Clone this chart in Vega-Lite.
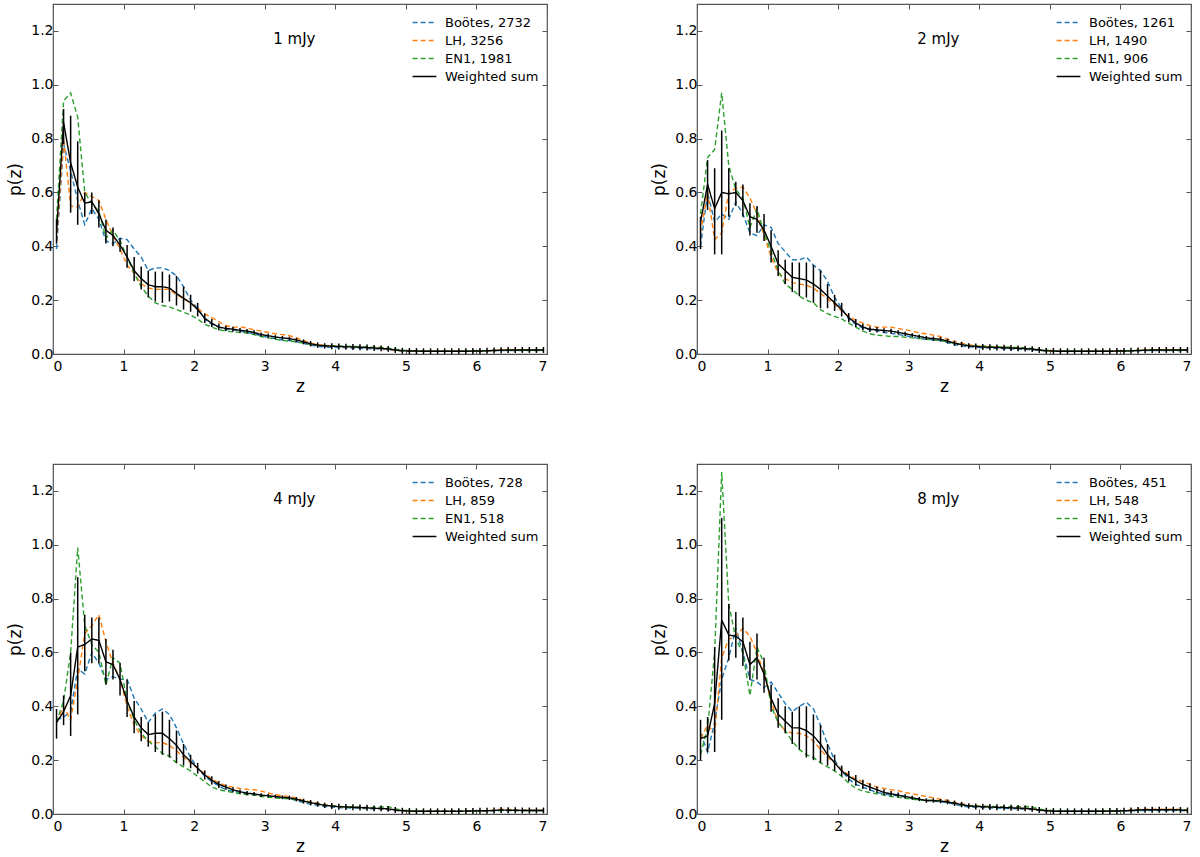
{
"$schema": "https://vega.github.io/schema/vega-lite/v6.json",
"background": "white",
"padding": {"left": 6, "top": 2, "right": 4, "bottom": 4},
"config": {
  "font": "DejaVu Sans",
  "view": {"stroke": "#555555", "strokeWidth": 1.2},
  "axis": {"domain": false, "grid": false, "tickColor": "#555555", "tickSize": -5, "tickWidth": 1, "labelFontSize": 14, "labelColor": "black", "labelFont": "DejaVu Sans", "titleFont": "DejaVu Sans", "titleFontSize": 17, "titleFontWeight": "normal", "titleColor": "black"},
  "axisX": {"labelPadding": 10, "titlePadding": 5},
  "axisY": {"labelPadding": 5, "titlePadding": 6},
  "legend": {"orient": "top-right", "offset": 8, "padding": 0, "labelFontSize": 13, "labelFont": "DejaVu Sans", "labelColor": "black", "symbolType": "M-1.25,0H1.25", "symbolSize": 361, "symbolStrokeWidth": 1.5, "rowPadding": 0, "labelOffset": 10, "title": null}
},
"datasets": {
"d": [
{"p":1,"z":0.05,"b":0.39,"l":0.42,"e":0.5,"w":0.45,"lo":0.41,"hi":0.5},
{"p":1,"z":0.15,"b":0.78,"l":0.8,"e":0.94,"w":0.86,"lo":0.78,"hi":0.91},
{"p":1,"z":0.25,"b":0.68,"l":0.55,"e":0.97,"w":0.71,"lo":0.525,"hi":0.885},
{"p":1,"z":0.35,"b":0.57,"l":0.545,"e":0.88,"w":0.62,"lo":0.48,"hi":0.79},
{"p":1,"z":0.45,"b":0.48,"l":0.6,"e":0.6,"w":0.56,"lo":0.51,"hi":0.6},
{"p":1,"z":0.55,"b":0.54,"l":0.585,"e":0.56,"w":0.566,"lo":0.52,"hi":0.6},
{"p":1,"z":0.65,"b":0.5,"l":0.57,"e":0.53,"w":0.52,"lo":0.47,"hi":0.57},
{"p":1,"z":0.75,"b":0.42,"l":0.5,"e":0.43,"w":0.46,"lo":0.41,"hi":0.5},
{"p":1,"z":0.85,"b":0.41,"l":0.44,"e":0.46,"w":0.44,"lo":0.4,"hi":0.47},
{"p":1,"z":0.95,"b":0.43,"l":0.39,"e":0.42,"w":0.405,"lo":0.38,"hi":0.43},
{"p":1,"z":1.05,"b":0.425,"l":0.33,"e":0.36,"w":0.36,"lo":0.32,"hi":0.405},
{"p":1,"z":1.15,"b":0.39,"l":0.3,"e":0.3,"w":0.31,"lo":0.27,"hi":0.36},
{"p":1,"z":1.25,"b":0.36,"l":0.26,"e":0.25,"w":0.28,"lo":0.24,"hi":0.325},
{"p":1,"z":1.35,"b":0.31,"l":0.245,"e":0.215,"w":0.257,"lo":0.21,"hi":0.31},
{"p":1,"z":1.45,"b":0.32,"l":0.24,"e":0.19,"w":0.25,"lo":0.195,"hi":0.306},
{"p":1,"z":1.55,"b":0.32,"l":0.24,"e":0.18,"w":0.25,"lo":0.19,"hi":0.306},
{"p":1,"z":1.65,"b":0.31,"l":0.24,"e":0.175,"w":0.245,"lo":0.195,"hi":0.295},
{"p":1,"z":1.75,"b":0.29,"l":0.22,"e":0.165,"w":0.225,"lo":0.18,"hi":0.29},
{"p":1,"z":1.85,"b":0.25,"l":0.205,"e":0.155,"w":0.207,"lo":0.165,"hi":0.25},
{"p":1,"z":1.95,"b":0.2,"l":0.19,"e":0.145,"w":0.19,"lo":0.157,"hi":0.22},
{"p":1,"z":2.05,"b":0.17,"l":0.17,"e":0.13,"w":0.165,"lo":0.14,"hi":0.19},
{"p":1,"z":2.15,"b":0.13,"l":0.15,"e":0.11,"w":0.133,"lo":0.115,"hi":0.15},
{"p":1,"z":2.25,"b":0.11,"l":0.135,"e":0.1,"w":0.114,"lo":0.1,"hi":0.13},
{"p":1,"z":2.35,"b":0.1,"l":0.12,"e":0.09,"w":0.1,"lo":0.088,"hi":0.113},
{"p":1,"z":2.45,"b":0.092,"l":0.105,"e":0.085,"w":0.095,"lo":0.085,"hi":0.105},
{"p":1,"z":2.55,"b":0.09,"l":0.1,"e":0.082,"w":0.092,"lo":0.083,"hi":0.101},
{"p":1,"z":2.65,"b":0.085,"l":0.1,"e":0.08,"w":0.088,"lo":0.08,"hi":0.097},
{"p":1,"z":2.75,"b":0.08,"l":0.097,"e":0.078,"w":0.085,"lo":0.077,"hi":0.093},
{"p":1,"z":2.85,"b":0.075,"l":0.09,"e":0.072,"w":0.08,"lo":0.072,"hi":0.088},
{"p":1,"z":2.95,"b":0.068,"l":0.085,"e":0.065,"w":0.072,"lo":0.065,"hi":0.08},
{"p":1,"z":3.05,"b":0.062,"l":0.08,"e":0.06,"w":0.068,"lo":0.06,"hi":0.075},
{"p":1,"z":3.15,"b":0.056,"l":0.075,"e":0.055,"w":0.063,"lo":0.056,"hi":0.07},
{"p":1,"z":3.25,"b":0.052,"l":0.072,"e":0.05,"w":0.06,"lo":0.053,"hi":0.067},
{"p":1,"z":3.35,"b":0.05,"l":0.068,"e":0.048,"w":0.057,"lo":0.05,"hi":0.064},
{"p":1,"z":3.45,"b":0.045,"l":0.06,"e":0.045,"w":0.052,"lo":0.044,"hi":0.06},
{"p":1,"z":3.55,"b":0.04,"l":0.05,"e":0.04,"w":0.045,"lo":0.036,"hi":0.054},
{"p":1,"z":3.65,"b":0.033,"l":0.04,"e":0.035,"w":0.038,"lo":0.028,"hi":0.048},
{"p":1,"z":3.75,"b":0.028,"l":0.035,"e":0.032,"w":0.033,"lo":0.023,"hi":0.043},
{"p":1,"z":3.85,"b":0.026,"l":0.032,"e":0.031,"w":0.03,"lo":0.02,"hi":0.04},
{"p":1,"z":3.95,"b":0.025,"l":0.03,"e":0.03,"w":0.029,"lo":0.018,"hi":0.04},
{"p":1,"z":4.05,"b":0.024,"l":0.028,"e":0.029,"w":0.028,"lo":0.017,"hi":0.039},
{"p":1,"z":4.15,"b":0.023,"l":0.027,"e":0.029,"w":0.027,"lo":0.016,"hi":0.038},
{"p":1,"z":4.25,"b":0.022,"l":0.026,"e":0.028,"w":0.026,"lo":0.015,"hi":0.037},
{"p":1,"z":4.35,"b":0.021,"l":0.025,"e":0.027,"w":0.025,"lo":0.014,"hi":0.036},
{"p":1,"z":4.45,"b":0.02,"l":0.024,"e":0.026,"w":0.024,"lo":0.013,"hi":0.035},
{"p":1,"z":4.55,"b":0.019,"l":0.022,"e":0.025,"w":0.022,"lo":0.011,"hi":0.033},
{"p":1,"z":4.65,"b":0.018,"l":0.02,"e":0.024,"w":0.021,"lo":0.01,"hi":0.032},
{"p":1,"z":4.75,"b":0.016,"l":0.018,"e":0.022,"w":0.019,"lo":0.008,"hi":0.03},
{"p":1,"z":4.85,"b":0.013,"l":0.014,"e":0.018,"w":0.015,"lo":0.004,"hi":0.026},
{"p":1,"z":4.95,"b":0.011,"l":0.012,"e":0.014,"w":0.012,"lo":0.001,"hi":0.023},
{"p":1,"z":5.05,"b":0.01,"l":0.011,"e":0.012,"w":0.011,"lo":0,"hi":0.022},
{"p":1,"z":5.15,"b":0.01,"l":0.01,"e":0.011,"w":0.011,"lo":0,"hi":0.022},
{"p":1,"z":5.25,"b":0.01,"l":0.01,"e":0.011,"w":0.01,"lo":0,"hi":0.021},
{"p":1,"z":5.35,"b":0.01,"l":0.01,"e":0.011,"w":0.01,"lo":0,"hi":0.021},
{"p":1,"z":5.45,"b":0.01,"l":0.01,"e":0.011,"w":0.01,"lo":0,"hi":0.021},
{"p":1,"z":5.55,"b":0.01,"l":0.01,"e":0.011,"w":0.01,"lo":0,"hi":0.021},
{"p":1,"z":5.65,"b":0.01,"l":0.01,"e":0.011,"w":0.01,"lo":0,"hi":0.021},
{"p":1,"z":5.75,"b":0.01,"l":0.01,"e":0.011,"w":0.01,"lo":0,"hi":0.021},
{"p":1,"z":5.85,"b":0.01,"l":0.01,"e":0.011,"w":0.01,"lo":0,"hi":0.021},
{"p":1,"z":5.95,"b":0.01,"l":0.011,"e":0.011,"w":0.011,"lo":0,"hi":0.022},
{"p":1,"z":6.05,"b":0.01,"l":0.011,"e":0.011,"w":0.011,"lo":0,"hi":0.022},
{"p":1,"z":6.15,"b":0.011,"l":0.012,"e":0.012,"w":0.012,"lo":0.001,"hi":0.023},
{"p":1,"z":6.25,"b":0.012,"l":0.014,"e":0.013,"w":0.013,"lo":0.002,"hi":0.024},
{"p":1,"z":6.35,"b":0.013,"l":0.015,"e":0.014,"w":0.014,"lo":0.003,"hi":0.025},
{"p":1,"z":6.45,"b":0.013,"l":0.016,"e":0.014,"w":0.015,"lo":0.004,"hi":0.026},
{"p":1,"z":6.55,"b":0.013,"l":0.016,"e":0.014,"w":0.015,"lo":0.004,"hi":0.026},
{"p":1,"z":6.65,"b":0.013,"l":0.016,"e":0.014,"w":0.015,"lo":0.004,"hi":0.026},
{"p":1,"z":6.75,"b":0.013,"l":0.016,"e":0.014,"w":0.015,"lo":0.004,"hi":0.026},
{"p":1,"z":6.85,"b":0.013,"l":0.016,"e":0.014,"w":0.015,"lo":0.004,"hi":0.026},
{"p":1,"z":6.95,"b":0.013,"l":0.016,"e":0.014,"w":0.015,"lo":0.004,"hi":0.026},

{"p":2,"z":0.05,"b":0.4,"l":0.45,"e":0.52,"w":0.49,"lo":0.39,"hi":0.51},
{"p":2,"z":0.15,"b":0.6,"l":0.6,"e":0.73,"w":0.63,"lo":0.535,"hi":0.72},
{"p":2,"z":0.25,"b":0.49,"l":0.425,"e":0.76,"w":0.54,"lo":0.37,"hi":0.69},
{"p":2,"z":0.35,"b":0.52,"l":0.45,"e":0.97,"w":0.6,"lo":0.37,"hi":0.83},
{"p":2,"z":0.45,"b":0.5,"l":0.6,"e":0.7,"w":0.595,"lo":0.51,"hi":0.69},
{"p":2,"z":0.55,"b":0.565,"l":0.615,"e":0.61,"w":0.6,"lo":0.55,"hi":0.64},
{"p":2,"z":0.65,"b":0.52,"l":0.62,"e":0.58,"w":0.57,"lo":0.51,"hi":0.63},
{"p":2,"z":0.75,"b":0.45,"l":0.58,"e":0.47,"w":0.51,"lo":0.44,"hi":0.56},
{"p":2,"z":0.85,"b":0.44,"l":0.52,"e":0.54,"w":0.5,"lo":0.45,"hi":0.55},
{"p":2,"z":0.95,"b":0.48,"l":0.44,"e":0.45,"w":0.46,"lo":0.42,"hi":0.52},
{"p":2,"z":1.05,"b":0.47,"l":0.36,"e":0.38,"w":0.4,"lo":0.34,"hi":0.46},
{"p":2,"z":1.15,"b":0.41,"l":0.3,"e":0.31,"w":0.335,"lo":0.29,"hi":0.385},
{"p":2,"z":1.25,"b":0.38,"l":0.28,"e":0.26,"w":0.31,"lo":0.26,"hi":0.35},
{"p":2,"z":1.35,"b":0.35,"l":0.265,"e":0.24,"w":0.285,"lo":0.23,"hi":0.34},
{"p":2,"z":1.45,"b":0.35,"l":0.26,"e":0.215,"w":0.28,"lo":0.215,"hi":0.34},
{"p":2,"z":1.55,"b":0.36,"l":0.255,"e":0.2,"w":0.275,"lo":0.21,"hi":0.34},
{"p":2,"z":1.65,"b":0.33,"l":0.245,"e":0.19,"w":0.26,"lo":0.19,"hi":0.33},
{"p":2,"z":1.75,"b":0.31,"l":0.225,"e":0.165,"w":0.24,"lo":0.17,"hi":0.31},
{"p":2,"z":1.85,"b":0.27,"l":0.205,"e":0.15,"w":0.215,"lo":0.17,"hi":0.26},
{"p":2,"z":1.95,"b":0.21,"l":0.185,"e":0.14,"w":0.19,"lo":0.16,"hi":0.22},
{"p":2,"z":2.05,"b":0.17,"l":0.16,"e":0.13,"w":0.165,"lo":0.14,"hi":0.19},
{"p":2,"z":2.15,"b":0.13,"l":0.14,"e":0.115,"w":0.135,"lo":0.118,"hi":0.152},
{"p":2,"z":2.25,"b":0.11,"l":0.125,"e":0.1,"w":0.115,"lo":0.1,"hi":0.13},
{"p":2,"z":2.35,"b":0.095,"l":0.115,"e":0.085,"w":0.1,"lo":0.088,"hi":0.112},
{"p":2,"z":2.45,"b":0.09,"l":0.105,"e":0.075,"w":0.092,"lo":0.082,"hi":0.102},
{"p":2,"z":2.55,"b":0.087,"l":0.1,"e":0.07,"w":0.09,"lo":0.08,"hi":0.1},
{"p":2,"z":2.65,"b":0.08,"l":0.1,"e":0.068,"w":0.087,"lo":0.078,"hi":0.096},
{"p":2,"z":2.75,"b":0.077,"l":0.1,"e":0.065,"w":0.085,"lo":0.076,"hi":0.094},
{"p":2,"z":2.85,"b":0.072,"l":0.095,"e":0.065,"w":0.08,"lo":0.072,"hi":0.088},
{"p":2,"z":2.95,"b":0.068,"l":0.09,"e":0.062,"w":0.075,"lo":0.067,"hi":0.083},
{"p":2,"z":3.05,"b":0.063,"l":0.085,"e":0.06,"w":0.07,"lo":0.063,"hi":0.077},
{"p":2,"z":3.15,"b":0.058,"l":0.078,"e":0.057,"w":0.065,"lo":0.058,"hi":0.072},
{"p":2,"z":3.25,"b":0.055,"l":0.075,"e":0.055,"w":0.06,"lo":0.053,"hi":0.067},
{"p":2,"z":3.35,"b":0.052,"l":0.07,"e":0.052,"w":0.057,"lo":0.049,"hi":0.065},
{"p":2,"z":3.45,"b":0.05,"l":0.065,"e":0.05,"w":0.055,"lo":0.047,"hi":0.063},
{"p":2,"z":3.55,"b":0.042,"l":0.055,"e":0.045,"w":0.048,"lo":0.039,"hi":0.057},
{"p":2,"z":3.65,"b":0.035,"l":0.045,"e":0.04,"w":0.04,"lo":0.03,"hi":0.05},
{"p":2,"z":3.75,"b":0.03,"l":0.04,"e":0.035,"w":0.035,"lo":0.025,"hi":0.045},
{"p":2,"z":3.85,"b":0.027,"l":0.035,"e":0.032,"w":0.03,"lo":0.02,"hi":0.04},
{"p":2,"z":3.95,"b":0.025,"l":0.03,"e":0.03,"w":0.028,"lo":0.017,"hi":0.039},
{"p":2,"z":4.05,"b":0.023,"l":0.028,"e":0.029,"w":0.026,"lo":0.015,"hi":0.037},
{"p":2,"z":4.15,"b":0.022,"l":0.027,"e":0.028,"w":0.025,"lo":0.014,"hi":0.036},
{"p":2,"z":4.25,"b":0.021,"l":0.026,"e":0.027,"w":0.024,"lo":0.013,"hi":0.035},
{"p":2,"z":4.35,"b":0.02,"l":0.025,"e":0.026,"w":0.023,"lo":0.012,"hi":0.034},
{"p":2,"z":4.45,"b":0.019,"l":0.024,"e":0.025,"w":0.022,"lo":0.011,"hi":0.033},
{"p":2,"z":4.55,"b":0.018,"l":0.022,"e":0.024,"w":0.021,"lo":0.01,"hi":0.032},
{"p":2,"z":4.65,"b":0.017,"l":0.02,"e":0.023,"w":0.02,"lo":0.009,"hi":0.031},
{"p":2,"z":4.75,"b":0.015,"l":0.018,"e":0.021,"w":0.018,"lo":0.007,"hi":0.029},
{"p":2,"z":4.85,"b":0.013,"l":0.014,"e":0.017,"w":0.015,"lo":0.004,"hi":0.026},
{"p":2,"z":4.95,"b":0.011,"l":0.012,"e":0.014,"w":0.012,"lo":0.001,"hi":0.023},
{"p":2,"z":5.05,"b":0.01,"l":0.011,"e":0.012,"w":0.011,"lo":0,"hi":0.022},
{"p":2,"z":5.15,"b":0.01,"l":0.01,"e":0.011,"w":0.01,"lo":0,"hi":0.021},
{"p":2,"z":5.25,"b":0.01,"l":0.01,"e":0.011,"w":0.01,"lo":0,"hi":0.021},
{"p":2,"z":5.35,"b":0.01,"l":0.01,"e":0.011,"w":0.01,"lo":0,"hi":0.021},
{"p":2,"z":5.45,"b":0.01,"l":0.01,"e":0.011,"w":0.01,"lo":0,"hi":0.021},
{"p":2,"z":5.55,"b":0.01,"l":0.01,"e":0.011,"w":0.01,"lo":0,"hi":0.021},
{"p":2,"z":5.65,"b":0.01,"l":0.01,"e":0.011,"w":0.01,"lo":0,"hi":0.021},
{"p":2,"z":5.75,"b":0.01,"l":0.01,"e":0.011,"w":0.01,"lo":0,"hi":0.021},
{"p":2,"z":5.85,"b":0.01,"l":0.01,"e":0.011,"w":0.01,"lo":0,"hi":0.021},
{"p":2,"z":5.95,"b":0.01,"l":0.011,"e":0.011,"w":0.011,"lo":0,"hi":0.022},
{"p":2,"z":6.05,"b":0.01,"l":0.011,"e":0.011,"w":0.011,"lo":0,"hi":0.022},
{"p":2,"z":6.15,"b":0.011,"l":0.012,"e":0.012,"w":0.012,"lo":0.001,"hi":0.023},
{"p":2,"z":6.25,"b":0.012,"l":0.014,"e":0.013,"w":0.013,"lo":0.002,"hi":0.024},
{"p":2,"z":6.35,"b":0.013,"l":0.015,"e":0.014,"w":0.014,"lo":0.003,"hi":0.025},
{"p":2,"z":6.45,"b":0.013,"l":0.016,"e":0.014,"w":0.015,"lo":0.004,"hi":0.026},
{"p":2,"z":6.55,"b":0.013,"l":0.016,"e":0.014,"w":0.015,"lo":0.004,"hi":0.026},
{"p":2,"z":6.65,"b":0.013,"l":0.016,"e":0.014,"w":0.015,"lo":0.004,"hi":0.026},
{"p":2,"z":6.75,"b":0.013,"l":0.016,"e":0.014,"w":0.015,"lo":0.004,"hi":0.026},
{"p":2,"z":6.85,"b":0.013,"l":0.016,"e":0.014,"w":0.015,"lo":0.004,"hi":0.026},
{"p":2,"z":6.95,"b":0.013,"l":0.016,"e":0.014,"w":0.015,"lo":0.004,"hi":0.026},

{"p":3,"z":0.05,"b":0.35,"l":0.34,"e":0.34,"w":0.34,"lo":0.28,"hi":0.39},
{"p":3,"z":0.15,"b":0.36,"l":0.4,"e":0.42,"w":0.38,"lo":0.33,"hi":0.44},
{"p":3,"z":0.25,"b":0.38,"l":0.35,"e":0.6,"w":0.44,"lo":0.29,"hi":0.6},
{"p":3,"z":0.35,"b":0.54,"l":0.5,"e":0.99,"w":0.62,"lo":0.37,"hi":0.88},
{"p":3,"z":0.45,"b":0.52,"l":0.67,"e":0.7,"w":0.63,"lo":0.53,"hi":0.74},
{"p":3,"z":0.55,"b":0.6,"l":0.7,"e":0.63,"w":0.65,"lo":0.56,"hi":0.73},
{"p":3,"z":0.65,"b":0.56,"l":0.74,"e":0.6,"w":0.645,"lo":0.56,"hi":0.73},
{"p":3,"z":0.75,"b":0.5,"l":0.64,"e":0.48,"w":0.565,"lo":0.48,"hi":0.65},
{"p":3,"z":0.85,"b":0.51,"l":0.56,"e":0.58,"w":0.555,"lo":0.5,"hi":0.61},
{"p":3,"z":0.95,"b":0.5,"l":0.5,"e":0.56,"w":0.5,"lo":0.44,"hi":0.56},
{"p":3,"z":1.05,"b":0.5,"l":0.4,"e":0.42,"w":0.42,"lo":0.36,"hi":0.5},
{"p":3,"z":1.15,"b":0.43,"l":0.33,"e":0.35,"w":0.36,"lo":0.3,"hi":0.42},
{"p":3,"z":1.25,"b":0.39,"l":0.29,"e":0.3,"w":0.32,"lo":0.27,"hi":0.36},
{"p":3,"z":1.35,"b":0.34,"l":0.27,"e":0.27,"w":0.295,"lo":0.25,"hi":0.34},
{"p":3,"z":1.45,"b":0.375,"l":0.265,"e":0.25,"w":0.3,"lo":0.23,"hi":0.37},
{"p":3,"z":1.55,"b":0.39,"l":0.265,"e":0.225,"w":0.3,"lo":0.22,"hi":0.38},
{"p":3,"z":1.65,"b":0.37,"l":0.255,"e":0.215,"w":0.28,"lo":0.21,"hi":0.35},
{"p":3,"z":1.75,"b":0.32,"l":0.235,"e":0.19,"w":0.255,"lo":0.19,"hi":0.31},
{"p":3,"z":1.85,"b":0.26,"l":0.21,"e":0.175,"w":0.22,"lo":0.18,"hi":0.26},
{"p":3,"z":1.95,"b":0.21,"l":0.19,"e":0.16,"w":0.195,"lo":0.17,"hi":0.22},
{"p":3,"z":2.05,"b":0.17,"l":0.17,"e":0.14,"w":0.17,"lo":0.15,"hi":0.19},
{"p":3,"z":2.15,"b":0.14,"l":0.15,"e":0.12,"w":0.145,"lo":0.128,"hi":0.162},
{"p":3,"z":2.25,"b":0.12,"l":0.13,"e":0.1,"w":0.125,"lo":0.11,"hi":0.14},
{"p":3,"z":2.35,"b":0.105,"l":0.115,"e":0.09,"w":0.11,"lo":0.097,"hi":0.123},
{"p":3,"z":2.45,"b":0.09,"l":0.105,"e":0.085,"w":0.1,"lo":0.09,"hi":0.11},
{"p":3,"z":2.55,"b":0.085,"l":0.1,"e":0.08,"w":0.09,"lo":0.081,"hi":0.099},
{"p":3,"z":2.65,"b":0.08,"l":0.095,"e":0.075,"w":0.083,"lo":0.075,"hi":0.091},
{"p":3,"z":2.75,"b":0.075,"l":0.092,"e":0.072,"w":0.077,"lo":0.07,"hi":0.085},
{"p":3,"z":2.85,"b":0.072,"l":0.09,"e":0.07,"w":0.075,"lo":0.068,"hi":0.082},
{"p":3,"z":2.95,"b":0.068,"l":0.085,"e":0.065,"w":0.07,"lo":0.063,"hi":0.077},
{"p":3,"z":3.05,"b":0.065,"l":0.078,"e":0.062,"w":0.068,"lo":0.061,"hi":0.075},
{"p":3,"z":3.15,"b":0.062,"l":0.072,"e":0.06,"w":0.065,"lo":0.058,"hi":0.072},
{"p":3,"z":3.25,"b":0.06,"l":0.068,"e":0.058,"w":0.062,"lo":0.055,"hi":0.069},
{"p":3,"z":3.35,"b":0.057,"l":0.065,"e":0.057,"w":0.06,"lo":0.052,"hi":0.068},
{"p":3,"z":3.45,"b":0.05,"l":0.06,"e":0.053,"w":0.055,"lo":0.047,"hi":0.063},
{"p":3,"z":3.55,"b":0.042,"l":0.05,"e":0.048,"w":0.048,"lo":0.039,"hi":0.057},
{"p":3,"z":3.65,"b":0.036,"l":0.045,"e":0.042,"w":0.042,"lo":0.032,"hi":0.052},
{"p":3,"z":3.75,"b":0.032,"l":0.04,"e":0.037,"w":0.037,"lo":0.027,"hi":0.047},
{"p":3,"z":3.85,"b":0.028,"l":0.035,"e":0.033,"w":0.032,"lo":0.022,"hi":0.042},
{"p":3,"z":3.95,"b":0.026,"l":0.03,"e":0.03,"w":0.03,"lo":0.019,"hi":0.041},
{"p":3,"z":4.05,"b":0.024,"l":0.028,"e":0.028,"w":0.027,"lo":0.016,"hi":0.038},
{"p":3,"z":4.15,"b":0.023,"l":0.026,"e":0.027,"w":0.026,"lo":0.015,"hi":0.037},
{"p":3,"z":4.25,"b":0.022,"l":0.025,"e":0.026,"w":0.025,"lo":0.014,"hi":0.036},
{"p":3,"z":4.35,"b":0.021,"l":0.024,"e":0.025,"w":0.024,"lo":0.013,"hi":0.035},
{"p":3,"z":4.45,"b":0.02,"l":0.023,"e":0.024,"w":0.023,"lo":0.012,"hi":0.034},
{"p":3,"z":4.55,"b":0.019,"l":0.021,"e":0.024,"w":0.021,"lo":0.01,"hi":0.032},
{"p":3,"z":4.65,"b":0.018,"l":0.02,"e":0.026,"w":0.021,"lo":0.01,"hi":0.032},
{"p":3,"z":4.75,"b":0.016,"l":0.018,"e":0.027,"w":0.019,"lo":0.008,"hi":0.03},
{"p":3,"z":4.85,"b":0.013,"l":0.014,"e":0.02,"w":0.015,"lo":0.004,"hi":0.026},
{"p":3,"z":4.95,"b":0.011,"l":0.012,"e":0.014,"w":0.012,"lo":0.001,"hi":0.023},
{"p":3,"z":5.05,"b":0.01,"l":0.011,"e":0.012,"w":0.011,"lo":0,"hi":0.022},
{"p":3,"z":5.15,"b":0.01,"l":0.01,"e":0.011,"w":0.01,"lo":0,"hi":0.021},
{"p":3,"z":5.25,"b":0.01,"l":0.01,"e":0.011,"w":0.01,"lo":0,"hi":0.021},
{"p":3,"z":5.35,"b":0.01,"l":0.01,"e":0.011,"w":0.01,"lo":0,"hi":0.021},
{"p":3,"z":5.45,"b":0.01,"l":0.01,"e":0.011,"w":0.01,"lo":0,"hi":0.021},
{"p":3,"z":5.55,"b":0.01,"l":0.01,"e":0.011,"w":0.01,"lo":0,"hi":0.021},
{"p":3,"z":5.65,"b":0.01,"l":0.01,"e":0.011,"w":0.01,"lo":0,"hi":0.021},
{"p":3,"z":5.75,"b":0.01,"l":0.01,"e":0.011,"w":0.01,"lo":0,"hi":0.021},
{"p":3,"z":5.85,"b":0.01,"l":0.011,"e":0.011,"w":0.011,"lo":0,"hi":0.022},
{"p":3,"z":5.95,"b":0.011,"l":0.012,"e":0.011,"w":0.011,"lo":0,"hi":0.022},
{"p":3,"z":6.05,"b":0.011,"l":0.012,"e":0.011,"w":0.012,"lo":0.001,"hi":0.023},
{"p":3,"z":6.15,"b":0.012,"l":0.013,"e":0.012,"w":0.012,"lo":0.001,"hi":0.023},
{"p":3,"z":6.25,"b":0.012,"l":0.015,"e":0.013,"w":0.013,"lo":0.002,"hi":0.024},
{"p":3,"z":6.35,"b":0.013,"l":0.018,"e":0.013,"w":0.015,"lo":0.004,"hi":0.026},
{"p":3,"z":6.45,"b":0.013,"l":0.017,"e":0.013,"w":0.014,"lo":0.003,"hi":0.025},
{"p":3,"z":6.55,"b":0.013,"l":0.015,"e":0.013,"w":0.014,"lo":0.003,"hi":0.025},
{"p":3,"z":6.65,"b":0.013,"l":0.014,"e":0.013,"w":0.013,"lo":0.002,"hi":0.024},
{"p":3,"z":6.75,"b":0.013,"l":0.014,"e":0.013,"w":0.013,"lo":0.002,"hi":0.024},
{"p":3,"z":6.85,"b":0.013,"l":0.014,"e":0.013,"w":0.013,"lo":0.002,"hi":0.024},
{"p":3,"z":6.95,"b":0.013,"l":0.014,"e":0.013,"w":0.013,"lo":0.002,"hi":0.024},

{"p":4,"z":0.05,"b":0.3,"l":0.28,"e":0.22,"w":0.28,"lo":0.2,"hi":0.35},
{"p":4,"z":0.15,"b":0.23,"l":0.33,"e":0.32,"w":0.29,"lo":0.23,"hi":0.36},
{"p":4,"z":0.25,"b":0.34,"l":0.3,"e":0.6,"w":0.41,"lo":0.23,"hi":0.62},
{"p":4,"z":0.35,"b":0.5,"l":0.58,"e":1.27,"w":0.72,"lo":0.35,"hi":1.1},
{"p":4,"z":0.45,"b":0.58,"l":0.65,"e":0.78,"w":0.665,"lo":0.57,"hi":0.78},
{"p":4,"z":0.55,"b":0.69,"l":0.66,"e":0.65,"w":0.66,"lo":0.58,"hi":0.75},
{"p":4,"z":0.65,"b":0.6,"l":0.69,"e":0.6,"w":0.64,"lo":0.55,"hi":0.73},
{"p":4,"z":0.75,"b":0.5,"l":0.66,"e":0.44,"w":0.555,"lo":0.5,"hi":0.64},
{"p":4,"z":0.85,"b":0.49,"l":0.6,"e":0.62,"w":0.58,"lo":0.5,"hi":0.67},
{"p":4,"z":0.95,"b":0.47,"l":0.52,"e":0.56,"w":0.52,"lo":0.45,"hi":0.58},
{"p":4,"z":1.05,"b":0.49,"l":0.42,"e":0.4,"w":0.43,"lo":0.38,"hi":0.48},
{"p":4,"z":1.15,"b":0.45,"l":0.34,"e":0.34,"w":0.37,"lo":0.32,"hi":0.43},
{"p":4,"z":1.25,"b":0.41,"l":0.31,"e":0.31,"w":0.345,"lo":0.3,"hi":0.4},
{"p":4,"z":1.35,"b":0.38,"l":0.3,"e":0.27,"w":0.32,"lo":0.26,"hi":0.38},
{"p":4,"z":1.45,"b":0.4,"l":0.3,"e":0.24,"w":0.32,"lo":0.24,"hi":0.4},
{"p":4,"z":1.55,"b":0.415,"l":0.29,"e":0.22,"w":0.31,"lo":0.21,"hi":0.4},
{"p":4,"z":1.65,"b":0.39,"l":0.27,"e":0.21,"w":0.29,"lo":0.2,"hi":0.37},
{"p":4,"z":1.75,"b":0.33,"l":0.24,"e":0.19,"w":0.26,"lo":0.19,"hi":0.33},
{"p":4,"z":1.85,"b":0.26,"l":0.21,"e":0.175,"w":0.22,"lo":0.18,"hi":0.26},
{"p":4,"z":1.95,"b":0.2,"l":0.19,"e":0.16,"w":0.19,"lo":0.16,"hi":0.22},
{"p":4,"z":2.05,"b":0.16,"l":0.165,"e":0.14,"w":0.16,"lo":0.14,"hi":0.18},
{"p":4,"z":2.15,"b":0.13,"l":0.145,"e":0.115,"w":0.14,"lo":0.12,"hi":0.16},
{"p":4,"z":2.25,"b":0.11,"l":0.13,"e":0.095,"w":0.125,"lo":0.105,"hi":0.145},
{"p":4,"z":2.35,"b":0.1,"l":0.12,"e":0.085,"w":0.11,"lo":0.093,"hi":0.127},
{"p":4,"z":2.45,"b":0.09,"l":0.11,"e":0.08,"w":0.1,"lo":0.086,"hi":0.114},
{"p":4,"z":2.55,"b":0.08,"l":0.1,"e":0.075,"w":0.09,"lo":0.078,"hi":0.102},
{"p":4,"z":2.65,"b":0.075,"l":0.095,"e":0.07,"w":0.08,"lo":0.07,"hi":0.092},
{"p":4,"z":2.75,"b":0.07,"l":0.09,"e":0.065,"w":0.075,"lo":0.066,"hi":0.085},
{"p":4,"z":2.85,"b":0.068,"l":0.087,"e":0.062,"w":0.07,"lo":0.062,"hi":0.08},
{"p":4,"z":2.95,"b":0.063,"l":0.08,"e":0.058,"w":0.065,"lo":0.058,"hi":0.073},
{"p":4,"z":3.05,"b":0.058,"l":0.075,"e":0.055,"w":0.06,"lo":0.053,"hi":0.068},
{"p":4,"z":3.15,"b":0.054,"l":0.07,"e":0.052,"w":0.055,"lo":0.048,"hi":0.063},
{"p":4,"z":3.25,"b":0.05,"l":0.065,"e":0.05,"w":0.05,"lo":0.042,"hi":0.058},
{"p":4,"z":3.35,"b":0.048,"l":0.06,"e":0.05,"w":0.05,"lo":0.042,"hi":0.058},
{"p":4,"z":3.45,"b":0.045,"l":0.055,"e":0.048,"w":0.048,"lo":0.04,"hi":0.056},
{"p":4,"z":3.55,"b":0.042,"l":0.05,"e":0.045,"w":0.045,"lo":0.036,"hi":0.054},
{"p":4,"z":3.65,"b":0.036,"l":0.043,"e":0.04,"w":0.04,"lo":0.03,"hi":0.05},
{"p":4,"z":3.75,"b":0.03,"l":0.038,"e":0.035,"w":0.035,"lo":0.025,"hi":0.045},
{"p":4,"z":3.85,"b":0.026,"l":0.033,"e":0.031,"w":0.03,"lo":0.02,"hi":0.04},
{"p":4,"z":3.95,"b":0.025,"l":0.03,"e":0.03,"w":0.028,"lo":0.017,"hi":0.039},
{"p":4,"z":4.05,"b":0.024,"l":0.028,"e":0.029,"w":0.027,"lo":0.016,"hi":0.038},
{"p":4,"z":4.15,"b":0.023,"l":0.027,"e":0.028,"w":0.026,"lo":0.015,"hi":0.037},
{"p":4,"z":4.25,"b":0.022,"l":0.026,"e":0.027,"w":0.025,"lo":0.014,"hi":0.036},
{"p":4,"z":4.35,"b":0.021,"l":0.025,"e":0.026,"w":0.024,"lo":0.013,"hi":0.035},
{"p":4,"z":4.45,"b":0.02,"l":0.024,"e":0.026,"w":0.023,"lo":0.012,"hi":0.034},
{"p":4,"z":4.55,"b":0.019,"l":0.022,"e":0.027,"w":0.022,"lo":0.011,"hi":0.033},
{"p":4,"z":4.65,"b":0.018,"l":0.02,"e":0.028,"w":0.021,"lo":0.01,"hi":0.032},
{"p":4,"z":4.75,"b":0.016,"l":0.018,"e":0.026,"w":0.019,"lo":0.008,"hi":0.03},
{"p":4,"z":4.85,"b":0.013,"l":0.014,"e":0.018,"w":0.015,"lo":0.004,"hi":0.026},
{"p":4,"z":4.95,"b":0.011,"l":0.012,"e":0.014,"w":0.012,"lo":0.001,"hi":0.023},
{"p":4,"z":5.05,"b":0.01,"l":0.011,"e":0.012,"w":0.011,"lo":0,"hi":0.022},
{"p":4,"z":5.15,"b":0.01,"l":0.01,"e":0.011,"w":0.01,"lo":0,"hi":0.021},
{"p":4,"z":5.25,"b":0.01,"l":0.01,"e":0.011,"w":0.01,"lo":0,"hi":0.021},
{"p":4,"z":5.35,"b":0.01,"l":0.01,"e":0.011,"w":0.01,"lo":0,"hi":0.021},
{"p":4,"z":5.45,"b":0.01,"l":0.01,"e":0.011,"w":0.01,"lo":0,"hi":0.021},
{"p":4,"z":5.55,"b":0.01,"l":0.01,"e":0.011,"w":0.01,"lo":0,"hi":0.021},
{"p":4,"z":5.65,"b":0.01,"l":0.01,"e":0.011,"w":0.01,"lo":0,"hi":0.021},
{"p":4,"z":5.75,"b":0.01,"l":0.01,"e":0.011,"w":0.01,"lo":0,"hi":0.021},
{"p":4,"z":5.85,"b":0.01,"l":0.011,"e":0.011,"w":0.011,"lo":0,"hi":0.022},
{"p":4,"z":5.95,"b":0.01,"l":0.012,"e":0.012,"w":0.011,"lo":0,"hi":0.022},
{"p":4,"z":6.05,"b":0.011,"l":0.013,"e":0.012,"w":0.012,"lo":0.001,"hi":0.023},
{"p":4,"z":6.15,"b":0.012,"l":0.015,"e":0.013,"w":0.013,"lo":0.002,"hi":0.024},
{"p":4,"z":6.25,"b":0.013,"l":0.017,"e":0.014,"w":0.015,"lo":0.004,"hi":0.026},
{"p":4,"z":6.35,"b":0.013,"l":0.018,"e":0.015,"w":0.016,"lo":0.005,"hi":0.027},
{"p":4,"z":6.45,"b":0.013,"l":0.018,"e":0.016,"w":0.016,"lo":0.005,"hi":0.027},
{"p":4,"z":6.55,"b":0.013,"l":0.018,"e":0.016,"w":0.016,"lo":0.005,"hi":0.027},
{"p":4,"z":6.65,"b":0.013,"l":0.018,"e":0.016,"w":0.016,"lo":0.005,"hi":0.027},
{"p":4,"z":6.75,"b":0.013,"l":0.018,"e":0.016,"w":0.016,"lo":0.005,"hi":0.027},
{"p":4,"z":6.85,"b":0.013,"l":0.017,"e":0.016,"w":0.015,"lo":0.004,"hi":0.026},
{"p":4,"z":6.95,"b":0.012,"l":0.014,"e":0.013,"w":0.013,"lo":0.002,"hi":0.024}
]
},
"columns": 2,
"spacing": {"row": 110, "column": 150},
"bounds": "flush",
"resolve": {"legend": {"color": "independent", "strokeDash": "independent"}},
"concat": [
{
 "width": 494, "height": 350,
 "data": {"name": "d"},
 "transform": [{"filter": "datum.p == 1"}],
 "resolve": {"axis": {"x": "independent", "y": "independent"}},
 "layer": [
  {
   "transform": [{"fold": ["b","l","e","w"], "as": ["k","v"]}],
   "mark": {"type": "line", "strokeWidth": 1.4},
   "encoding": {
    "x": {"field": "z", "type": "quantitative", "scale": {"domain": [0,7], "nice": false}, "axis": {"values": [0,1,2,3,4,5,6,7], "format": "d", "title": "z"}},
    "y": {"field": "v", "type": "quantitative", "scale": {"domain": [0,1.3], "nice": false}, "axis": {"values": [0,0.2,0.4,0.6,0.8,1,1.2], "format": ".1f", "title": "p(z)"}},
    "color": {"field": "k", "type": "nominal", "scale": {"domain": ["b","l","e","w"], "range": ["#1f77b4","#ff7f0e","#2ca02c","#000000"]}, "legend": {"labelExpr": "datum.label == 'b' ? 'Boötes, 2732' : datum.label == 'l' ? 'LH, 3256' : datum.label == 'e' ? 'EN1, 1981' : 'Weighted sum'"}},
    "strokeDash": {"field": "k", "type": "nominal", "scale": {"domain": ["b","l","e","w"], "range": [[5,3],[5,3],[5,3],[1,0]]}, "legend": {"labelExpr": "datum.label == 'b' ? 'Boötes, 2732' : datum.label == 'l' ? 'LH, 3256' : datum.label == 'e' ? 'EN1, 1981' : 'Weighted sum'"}}
   }
  },
  {
   "mark": {"type": "rule", "color": "black", "strokeWidth": 1.5},
   "encoding": {
    "x": {"field": "z", "type": "quantitative", "axis": {"orient": "top", "labels": false, "title": null, "values": [0,1,2,3,4,5,6,7]}},
    "y": {"field": "lo", "type": "quantitative", "axis": {"orient": "right", "labels": false, "title": null, "values": [0,0.2,0.4,0.6,0.8,1,1.2]}},
    "y2": {"field": "hi"}
   }
  },
  {
   "data": {"values": [{"t": "1 mJy"}]},
   "mark": {"type": "text", "fontSize": 15, "color": "black"},
   "encoding": {"x": {"datum": 3.42, "type": "quantitative", "axis": null}, "y": {"datum": 1.17, "type": "quantitative", "axis": null}, "text": {"field": "t"}}
  }
 ]
},
{
 "width": 494, "height": 350,
 "data": {"name": "d"},
 "transform": [{"filter": "datum.p == 2"}],
 "resolve": {"axis": {"x": "independent", "y": "independent"}},
 "layer": [
  {
   "transform": [{"fold": ["b","l","e","w"], "as": ["k","v"]}],
   "mark": {"type": "line", "strokeWidth": 1.4},
   "encoding": {
    "x": {"field": "z", "type": "quantitative", "scale": {"domain": [0,7], "nice": false}, "axis": {"values": [0,1,2,3,4,5,6,7], "format": "d", "title": "z"}},
    "y": {"field": "v", "type": "quantitative", "scale": {"domain": [0,1.3], "nice": false}, "axis": {"values": [0,0.2,0.4,0.6,0.8,1,1.2], "format": ".1f", "title": "p(z)"}},
    "color": {"field": "k", "type": "nominal", "scale": {"domain": ["b","l","e","w"], "range": ["#1f77b4","#ff7f0e","#2ca02c","#000000"]}, "legend": {"labelExpr": "datum.label == 'b' ? 'Boötes, 1261' : datum.label == 'l' ? 'LH, 1490' : datum.label == 'e' ? 'EN1, 906' : 'Weighted sum'"}},
    "strokeDash": {"field": "k", "type": "nominal", "scale": {"domain": ["b","l","e","w"], "range": [[5,3],[5,3],[5,3],[1,0]]}, "legend": {"labelExpr": "datum.label == 'b' ? 'Boötes, 1261' : datum.label == 'l' ? 'LH, 1490' : datum.label == 'e' ? 'EN1, 906' : 'Weighted sum'"}}
   }
  },
  {
   "mark": {"type": "rule", "color": "black", "strokeWidth": 1.5},
   "encoding": {
    "x": {"field": "z", "type": "quantitative", "axis": {"orient": "top", "labels": false, "title": null, "values": [0,1,2,3,4,5,6,7]}},
    "y": {"field": "lo", "type": "quantitative", "axis": {"orient": "right", "labels": false, "title": null, "values": [0,0.2,0.4,0.6,0.8,1,1.2]}},
    "y2": {"field": "hi"}
   }
  },
  {
   "data": {"values": [{"t": "2 mJy"}]},
   "mark": {"type": "text", "fontSize": 15, "color": "black"},
   "encoding": {"x": {"datum": 3.42, "type": "quantitative", "axis": null}, "y": {"datum": 1.17, "type": "quantitative", "axis": null}, "text": {"field": "t"}}
  }
 ]
},
{
 "width": 494, "height": 350,
 "data": {"name": "d"},
 "transform": [{"filter": "datum.p == 3"}],
 "resolve": {"axis": {"x": "independent", "y": "independent"}},
 "layer": [
  {
   "transform": [{"fold": ["b","l","e","w"], "as": ["k","v"]}],
   "mark": {"type": "line", "strokeWidth": 1.4},
   "encoding": {
    "x": {"field": "z", "type": "quantitative", "scale": {"domain": [0,7], "nice": false}, "axis": {"values": [0,1,2,3,4,5,6,7], "format": "d", "title": "z"}},
    "y": {"field": "v", "type": "quantitative", "scale": {"domain": [0,1.3], "nice": false}, "axis": {"values": [0,0.2,0.4,0.6,0.8,1,1.2], "format": ".1f", "title": "p(z)"}},
    "color": {"field": "k", "type": "nominal", "scale": {"domain": ["b","l","e","w"], "range": ["#1f77b4","#ff7f0e","#2ca02c","#000000"]}, "legend": {"labelExpr": "datum.label == 'b' ? 'Boötes, 728' : datum.label == 'l' ? 'LH, 859' : datum.label == 'e' ? 'EN1, 518' : 'Weighted sum'"}},
    "strokeDash": {"field": "k", "type": "nominal", "scale": {"domain": ["b","l","e","w"], "range": [[5,3],[5,3],[5,3],[1,0]]}, "legend": {"labelExpr": "datum.label == 'b' ? 'Boötes, 728' : datum.label == 'l' ? 'LH, 859' : datum.label == 'e' ? 'EN1, 518' : 'Weighted sum'"}}
   }
  },
  {
   "mark": {"type": "rule", "color": "black", "strokeWidth": 1.5},
   "encoding": {
    "x": {"field": "z", "type": "quantitative", "axis": {"orient": "top", "labels": false, "title": null, "values": [0,1,2,3,4,5,6,7]}},
    "y": {"field": "lo", "type": "quantitative", "axis": {"orient": "right", "labels": false, "title": null, "values": [0,0.2,0.4,0.6,0.8,1,1.2]}},
    "y2": {"field": "hi"}
   }
  },
  {
   "data": {"values": [{"t": "4 mJy"}]},
   "mark": {"type": "text", "fontSize": 15, "color": "black"},
   "encoding": {"x": {"datum": 3.42, "type": "quantitative", "axis": null}, "y": {"datum": 1.17, "type": "quantitative", "axis": null}, "text": {"field": "t"}}
  }
 ]
},
{
 "width": 494, "height": 350,
 "data": {"name": "d"},
 "transform": [{"filter": "datum.p == 4"}],
 "resolve": {"axis": {"x": "independent", "y": "independent"}},
 "layer": [
  {
   "transform": [{"fold": ["b","l","e","w"], "as": ["k","v"]}],
   "mark": {"type": "line", "strokeWidth": 1.4},
   "encoding": {
    "x": {"field": "z", "type": "quantitative", "scale": {"domain": [0,7], "nice": false}, "axis": {"values": [0,1,2,3,4,5,6,7], "format": "d", "title": "z"}},
    "y": {"field": "v", "type": "quantitative", "scale": {"domain": [0,1.3], "nice": false}, "axis": {"values": [0,0.2,0.4,0.6,0.8,1,1.2], "format": ".1f", "title": "p(z)"}},
    "color": {"field": "k", "type": "nominal", "scale": {"domain": ["b","l","e","w"], "range": ["#1f77b4","#ff7f0e","#2ca02c","#000000"]}, "legend": {"labelExpr": "datum.label == 'b' ? 'Boötes, 451' : datum.label == 'l' ? 'LH, 548' : datum.label == 'e' ? 'EN1, 343' : 'Weighted sum'"}},
    "strokeDash": {"field": "k", "type": "nominal", "scale": {"domain": ["b","l","e","w"], "range": [[5,3],[5,3],[5,3],[1,0]]}, "legend": {"labelExpr": "datum.label == 'b' ? 'Boötes, 451' : datum.label == 'l' ? 'LH, 548' : datum.label == 'e' ? 'EN1, 343' : 'Weighted sum'"}}
   }
  },
  {
   "mark": {"type": "rule", "color": "black", "strokeWidth": 1.5},
   "encoding": {
    "x": {"field": "z", "type": "quantitative", "axis": {"orient": "top", "labels": false, "title": null, "values": [0,1,2,3,4,5,6,7]}},
    "y": {"field": "lo", "type": "quantitative", "axis": {"orient": "right", "labels": false, "title": null, "values": [0,0.2,0.4,0.6,0.8,1,1.2]}},
    "y2": {"field": "hi"}
   }
  },
  {
   "data": {"values": [{"t": "8 mJy"}]},
   "mark": {"type": "text", "fontSize": 15, "color": "black"},
   "encoding": {"x": {"datum": 3.42, "type": "quantitative", "axis": null}, "y": {"datum": 1.17, "type": "quantitative", "axis": null}, "text": {"field": "t"}}
  }
 ]
}
]
}
